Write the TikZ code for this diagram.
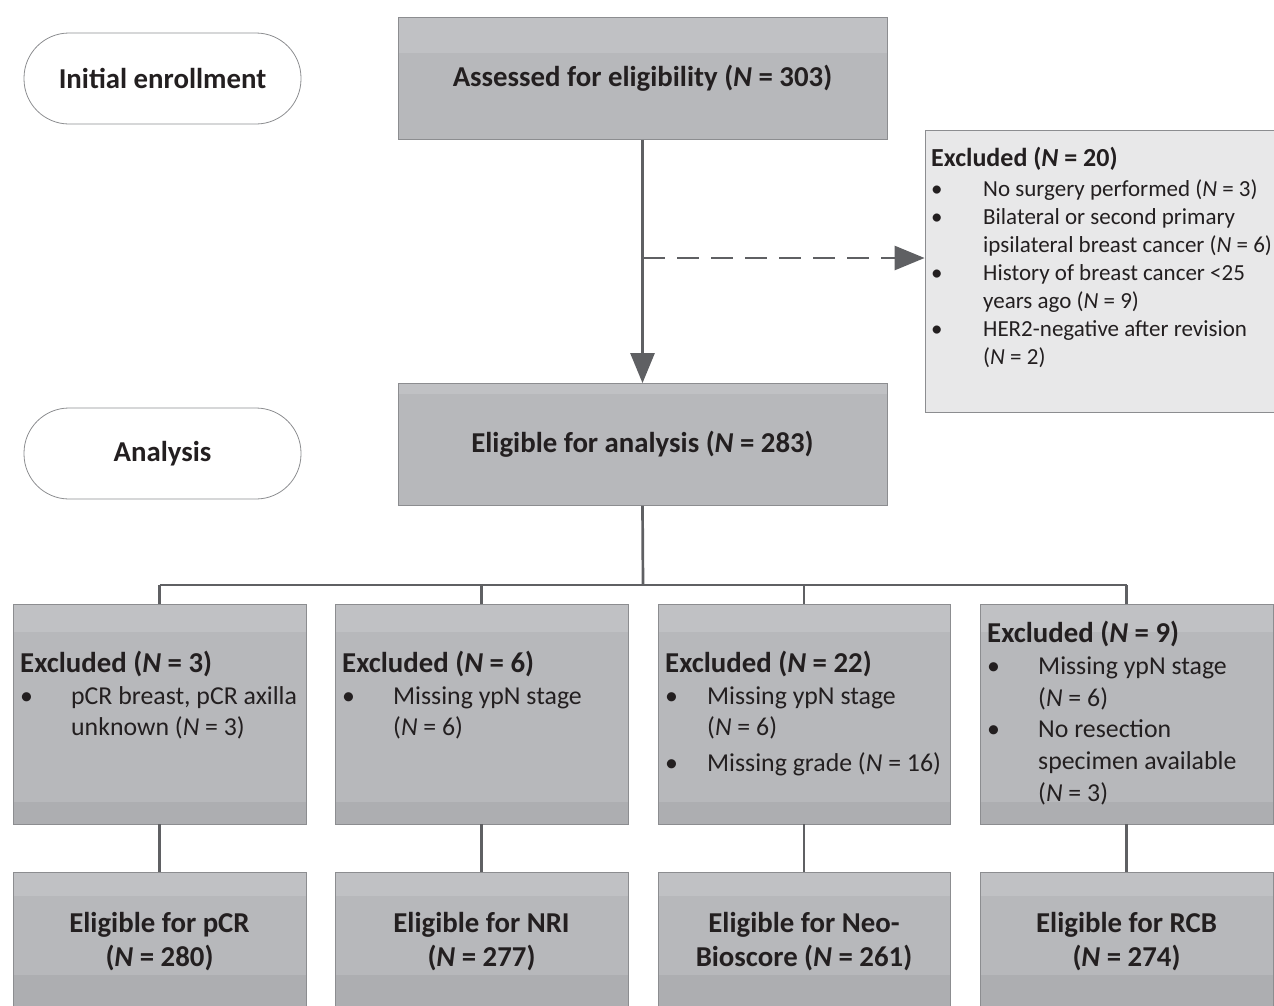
\documentclass[tikz,border=0pt]{standalone}
\usepackage{fontspec}
\setmainfont{Carlito}
\usetikzlibrary{arrows.meta}
\definecolor{boxg}{HTML}{B7B8BB}
\definecolor{bandl}{HTML}{C0C1C4}
\definecolor{bandd}{HTML}{ADAEB1}
\definecolor{edgeg}{HTML}{8C8D90}
\definecolor{lineg}{HTML}{5F6063}
\definecolor{exfill}{HTML}{E8E8E9}
\definecolor{txt}{HTML}{231F20}
\tikzset{
  gbox/.style={draw=edgeg, line width=0.8pt, fill=boxg, inner sep=0pt, align=center,
    font=\fontsize{28.8}{34}\selectfont\bfseries, text=txt},
  bands/.style n args={2}{path picture={
    \fill[bandl] (path picture bounding box.north west) rectangle ([yshift=-#1]path picture bounding box.north east);
    \fill[bandd] (path picture bounding box.south west) rectangle ([yshift=#2]path picture bounding box.south east);}},
  exbox/.style={draw=edgeg, line width=0.8pt, fill=exfill, inner sep=0pt},
  pill/.style={draw=edgeg, line width=0.8pt, rounded corners=45pt, minimum width=277pt,
    minimum height=91pt, inner sep=0pt, font=\fontsize{28.8}{34}\selectfont\bfseries, text=txt},
  listtxt/.style={inner sep=0pt, anchor=base west, text=txt},
  conn/.style={draw=lineg, line width=2.7pt},
  tip/.style={-{Triangle[length=30pt,width=24pt]}}
}
\begin{document}
\begin{tikzpicture}[x=1pt,y=-1pt]
\useasboundingbox (0,0) rectangle (1274,1005);

% pills
\node[pill] (p1) at (162.5,78.5) {Initial enrollment};
\node[pill] (p2) at (162.5,453.5) {Analysis};

% main boxes
\node[gbox, bands={35pt}{0pt}, minimum width=489pt, minimum height=122pt] (assess) at (642.5,78.5) {Assessed for eligibility (\textit{N} = 303)};
\node[gbox, bands={10pt}{0pt}, minimum width=489pt, minimum height=122pt] (elig) at (642.5,444.5) {Eligible for analysis (\textit{N} = 283)};

% excluded top
\node[exbox, minimum width=349pt, minimum height=282pt] (excl) at (1099.5,271) {};
\node[listtxt] (exclt) at (931,166.5) {\fontsize{23}{28}\selectfont
\begin{tabular}[t]{@{}p{52pt}@{}l@{}}
\multicolumn{2}{@{}l@{}}{\fontsize{26}{28}\selectfont\bfseries Excluded (\textit{N} = 20)}\\[2pt]
\textbullet & No surgery performed (\textit{N} = 3)\\
\textbullet & Bilateral or second primary\\
 & ipsilateral breast cancer (\textit{N} = 6)\\
\textbullet & History of breast cancer <25\\
 & years ago (\textit{N} = 9)\\
\textbullet & HER2-negative after revision\\
 & (\textit{N} = 2)
\end{tabular}};

% lower excluded boxes
\node[gbox, bands={28pt}{22pt}, minimum width=293pt, minimum height=220pt] (ex1) at (159.5,714) {};
\node[gbox, bands={28pt}{22pt}, minimum width=293pt, minimum height=220pt] (ex2) at (481.5,714) {};
\node[gbox, bands={28pt}{22pt}, minimum width=292pt, minimum height=220pt] (ex3) at (804,714) {};
\node[gbox, bands={28pt}{22pt}, minimum width=293pt, minimum height=220pt] (ex4) at (1126.5,714) {};

\node[listtxt] (ex1t) at (20,672.5) {\fontsize{25.8}{31.5}\selectfont
\begin{tabular}[t]{@{}p{51pt}@{}l@{}}
\multicolumn{2}{@{}l@{}}{\fontsize{28.8}{31.5}\selectfont\bfseries Excluded (\textit{N} = 3)}\\
\textbullet & pCR breast, pCR axilla\\
 & unknown (\textit{N} = 3)
\end{tabular}};
\node[listtxt] (ex2t) at (342,672.5) {\fontsize{25.8}{31.5}\selectfont
\begin{tabular}[t]{@{}p{51pt}@{}l@{}}
\multicolumn{2}{@{}l@{}}{\fontsize{28.8}{31.5}\selectfont\bfseries Excluded (\textit{N} = 6)}\\
\textbullet & Missing ypN stage\\
 & (\textit{N} = 6)
\end{tabular}};
\node[listtxt] (ex3t) at (665,672.5) {\fontsize{25.8}{31.5}\selectfont
\begin{tabular}[t]{@{}p{42pt}@{}l@{}}
\multicolumn{2}{@{}l@{}}{\fontsize{28.8}{31.5}\selectfont\bfseries Excluded (\textit{N} = 22)}\\
\textbullet & Missing ypN stage\\
 & (\textit{N} = 6)\\[4pt]
\textbullet & Missing grade (\textit{N} = 16)
\end{tabular}};
\node[listtxt] (ex4t) at (987,642.5) {\fontsize{25.8}{31.8}\selectfont
\begin{tabular}[t]{@{}p{51pt}@{}l@{}}
\multicolumn{2}{@{}l@{}}{\fontsize{28.8}{31.8}\selectfont\bfseries Excluded (\textit{N} = 9)}\\
\textbullet & Missing ypN stage\\
 & (\textit{N} = 6)\\
\textbullet & No resection\\
 & specimen available\\
 & (\textit{N} = 3)
\end{tabular}};

% bottom boxes
\node[gbox, bands={24pt}{37pt}, minimum width=293pt, minimum height=140pt] (el1) at (159.5,942) {Eligible for pCR\\(\textit{N} = 280)};
\node[gbox, bands={24pt}{37pt}, minimum width=293pt, minimum height=140pt] (el2) at (481.5,942) {Eligible for NRI\\(\textit{N} = 277)};
\node[gbox, bands={24pt}{37pt}, minimum width=292pt, minimum height=140pt] (el3) at (804,942) {Eligible for Neo-\\Bioscore (\textit{N} = 261)};
\node[gbox, bands={24pt}{37pt}, minimum width=293pt, minimum height=140pt] (el4) at (1126.5,942) {Eligible for RCB\\(\textit{N} = 274)};

% connectors
\coordinate (br) at (643,258);
\coordinate (bus) at (643,585);
\draw[conn, tip] (assess.south) -- (elig.north);
\draw[conn, tip, dash pattern=on 22pt off 12pt] (br) -- (br -| excl.west);
\draw[conn] (elig.south) -- (bus);
\draw[conn] (bus -| ex1.north) -- (bus -| ex4.north);
\draw[conn] (bus -| ex1.north) -- (ex1.north);
\draw[conn] (bus -| ex2.north) -- (ex2.north);
\draw[conn] (bus -| ex3.north) -- (ex3.north);
\draw[conn] (bus -| ex4.north) -- (ex4.north);
\draw[conn] (ex1.south) -- (el1.north);
\draw[conn] (ex2.south) -- (el2.north);
\draw[conn] (ex3.south) -- (el3.north);
\draw[conn] (ex4.south) -- (el4.north);
\end{tikzpicture}
\end{document}
